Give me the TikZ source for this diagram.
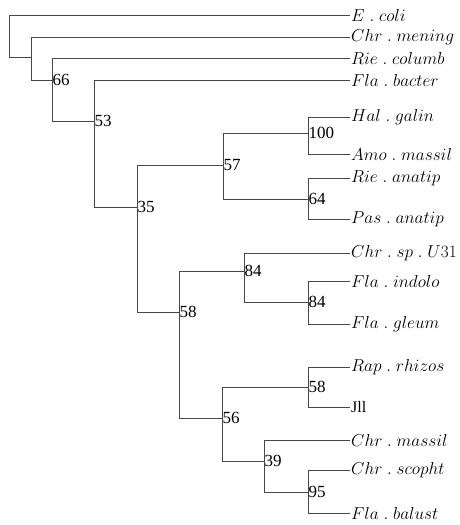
\documentclass[tikz,border=0pt]{standalone}
\usepackage{fontspec}
\newfontfamily\numfont{Liberation Serif}
\newcommand{\tx}[2]{$#1\ .\ #2$}
\tikzset{
  edge/.style={draw=black!72, line width=0.9pt},
  leaf/.style={anchor=west, inner sep=1pt, font=\fontsize{16}{16}\selectfont},
  uleaf/.style={anchor=west, inner sep=1pt, font=\fontsize{16}{16}\selectfont\numfont},
  boot/.style={anchor=west, inner sep=0.5pt, font=\fontsize{17}{17}\selectfont\numfont}
}
\begin{document}
\begin{tikzpicture}[x=1pt,y=-1pt]
\useasboundingbox (0,0) rectangle (459,525);
% leaves
\node[leaf] (ecoli) at (350,15) {\tx{E}{coli}};
\node[leaf] (chrmen) at (350,37) {\tx{Chr}{mening}};
\node[leaf] (riecol) at (350,58) {\tx{Rie}{columb}};
\node[leaf] (flabac) at (350,80) {\tx{Fla}{bacter}};
\node[leaf] (halgal) at (350,117) {\tx{Hal}{galin}};
\node[leaf] (amomas) at (350,154) {\tx{Amo}{massil}};
\node[leaf] (rieana) at (350,178) {\tx{Rie}{anatip}};
\node[leaf] (pasana) at (350,219) {\tx{Pas}{anatip}};
\node[leaf] (chrsp) at (350,253) {$Chr\ .\ sp\ .\ U31$};
\node[leaf] (flaind) at (350,281) {\tx{Fla}{indolo}};
\node[leaf] (flagle) at (350,324) {\tx{Fla}{gleum}};
\node[leaf] (raprhi) at (350,367) {\tx{Rap}{rhizos}};
\node[uleaf] (jll) at (350,407) {Jll};
\node[leaf] (chrmas) at (350,440) {\tx{Chr}{massil}};
\node[leaf] (chrsco) at (350,470) {\tx{Chr}{scopht}};
\node[leaf] (flabal) at (350,513) {\tx{Fla}{balust}};
% internal nodes
\coordinate (root) at (9,36);
\coordinate (n2) at (31,57);
\coordinate (n66) at (52,80);
\coordinate (n53) at (94,121);
\coordinate (n35) at (137,207);
\coordinate (n57) at (223,165);
\coordinate (n100) at (308,133);
\coordinate (n64) at (308,199);
\coordinate (n58a) at (179,312);
\coordinate (n84a) at (244,271);
\coordinate (n84b) at (308,302);
\coordinate (n56) at (222,418);
\coordinate (n58b) at (308,387);
\coordinate (n39) at (264,461);
\coordinate (n95) at (308,492);
% bootstrap labels
\node[boot] (b66) at (n66) {66};
\node[boot] (b53) at (n53) {53};
\node[boot] (b35) at (n35) {35};
\node[boot] (b57) at (n57) {57};
\node[boot] (b100) at (n100) {100};
\node[boot] (b64) at (n64) {64};
\node[boot] (b58a) at (n58a) {58};
\node[boot] (b84a) at (n84a) {84};
\node[boot] (b84b) at (n84b) {84};
\node[boot] (b56) at (n56) {56};
\node[boot] (b58b) at (n58b) {58};
\node[boot] (b39) at (n39) {39};
\node[boot] (b95) at (n95) {95};
% edges
\draw[edge] (root) |- (ecoli.west) (root) |- (n2);
\draw[edge] (n2) |- (chrmen.west) (n2) |- (n66);
\draw[edge] (n66) |- (riecol.west) (n66) |- (n53);
\draw[edge] (n53) |- (flabac.west) (n53) |- (n35);
\draw[edge] (n35) |- (n57) (n35) |- (n58a);
\draw[edge] (n57) |- (n100) (n57) |- (n64);
\draw[edge] (n100) |- (halgal.west) (n100) |- (amomas.west);
\draw[edge] (n64) |- (rieana.west) (n64) |- (pasana.west);
\draw[edge] (n58a) |- (n84a) (n58a) |- (n56);
\draw[edge] (n84a) |- (chrsp.west) (n84a) |- (n84b);
\draw[edge] (n84b) |- (flaind.west) (n84b) |- (flagle.west);
\draw[edge] (n56) |- (n58b) (n56) |- (n39);
\draw[edge] (n58b) |- (raprhi.west) (n58b) |- (jll.west);
\draw[edge] (n39) |- (chrmas.west) (n39) |- (n95);
\draw[edge] (n95) |- (chrsco.west) (n95) |- (flabal.west);
\end{tikzpicture}
\end{document}
